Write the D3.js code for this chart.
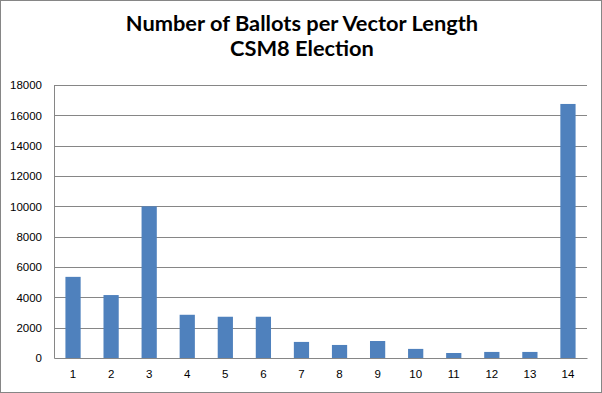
<!DOCTYPE html>
<html>
<head>
<meta charset="utf-8">
<script src="https://cdn.jsdelivr.net/npm/d3@7"></script>
<style>
  body { margin: 0; background: #fff; }
  svg { display: block; font-family: "Open Sans", "Liberation Sans", sans-serif; }
</style>
</head>
<body>
<svg id="chart"></svg>
<script>
// データ
var categories = ["1","2","3","4","5","6","7","8","9","10","11","12","13","14"];
var ballots = [5350, 4150, 10000, 2850, 2720, 2720, 1060, 860, 1120, 600, 330, 400, 400, 16750];
var yTicks = [0, 2000, 4000, 6000, 8000, 10000, 12000, 14000, 16000, 18000];
var titleLines = ["Number of Ballots per Vector Length", "CSM8 Election"];

var size = { width: 602, height: 393 };
var margin = { top: 85, right: 15, bottom: 35, left: 54 };
var width = size.width - margin.left - margin.right;
var height = size.height - margin.top - margin.bottom;

var svg = d3.select("#chart")
  .attr("width", size.width)
  .attr("height", size.height);

// 外枠
svg.append("rect")
  .attr("x", 0.5).attr("y", 0.5)
  .attr("width", size.width - 1).attr("height", size.height - 1)
  .attr("fill", "#fff")
  .attr("stroke", "#868686");

// タイトル
svg.append("g").selectAll("text")
  .data(titleLines)
  .enter().append("text")
  .attr("x", 302)
  .attr("y", function(d, i){ return 31 + i * 25; })
  .attr("text-anchor", "middle")
  .style("font-family", "Lato, 'Open Sans', sans-serif")
  .style("font-weight", "bold")
  .style("font-size", "21.8px")
  .attr("fill", "#000")
  .text(function(d){ return d; });

var g = svg.append("g")
  .attr("transform", "translate(" + margin.left + "," + margin.top + ")");

var x = d3.scaleBand()
  .domain(categories)
  .range([0, width])
  .paddingInner(0.6)
  .paddingOuter(0.3);

var y = d3.scaleLinear()
  .domain([0, 18000])
  .range([height, 0]);

// グリッド線
g.append("g")
  .selectAll("line")
  .data(yTicks.slice(1))
  .enter().append("line")
  .attr("x1", 0).attr("x2", width)
  .attr("y1", function(d){ return Math.round(y(d)) + 0.5; })
  .attr("y2", function(d){ return Math.round(y(d)) + 0.5; })
  .attr("stroke", "#868686");

// Y軸
var yAxis = d3.axisLeft(y)
  .tickValues(yTicks)
  .tickSize(0)
  .tickPadding(12)
  .tickFormat(d3.format("d"));

var yg = g.append("g").call(yAxis);
yg.select(".domain").attr("stroke", "#868686");
yg.selectAll("text").style("font-size", "11.5px").attr("fill", "#000");

// 棒
g.selectAll("rect.bar")
  .data(ballots)
  .enter().append("rect")
  .attr("class", "bar")
  .attr("x", function(d, i){ return x(categories[i]); })
  .attr("width", x.bandwidth())
  .attr("y", function(d){ return y(d); })
  .attr("height", function(d){ return height - y(d); })
  .attr("fill", "#4F81BD");

// X軸
var xAxis = d3.axisBottom(x)
  .tickSize(0)
  .tickPadding(12);

var xg = g.append("g")
  .attr("transform", "translate(0," + height + ")")
  .call(xAxis);
xg.select(".domain").attr("stroke", "#868686");
xg.selectAll("text").style("font-size", "11.5px").attr("fill", "#000");
</script>
</body>
</html>
